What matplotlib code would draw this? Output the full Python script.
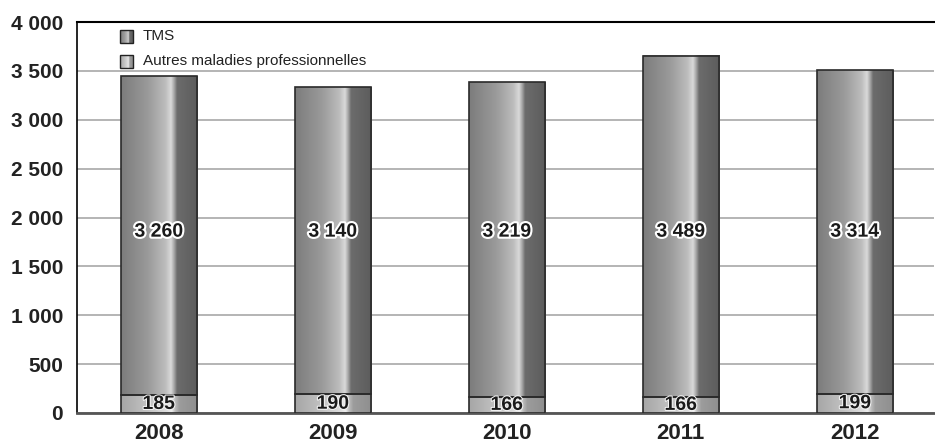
import matplotlib
matplotlib.use("Agg")
import matplotlib.pyplot as plt
import numpy as np
from matplotlib.colors import LinearSegmentedColormap
from matplotlib.patches import Rectangle
import matplotlib.patheffects as pe
from matplotlib import font_manager

years = ["2008", "2009", "2010", "2011", "2012"]
autres = [185, 190, 166, 166, 199]
tms = [3260, 3140, 3219, 3489, 3314]
yticks = [0, 500, 1000, 1500, 2000, 2500, 3000, 3500, 4000]
ytick_labels = ["0", "500", "1 000", "1 500", "2 000", "2 500", "3 000", "3 500", "4 000"]
legend_labels = ["TMS", "Autres maladies professionnelles"]
tms_label_y = 1850

names = {f.name for f in font_manager.fontManager.ttflist}
fam = "Liberation Sans Narrow" if "Liberation Sans Narrow" in names else "Liberation Sans"
plt.rcParams['font.family'] = [fam, 'DejaVu Sans']

cm_top = LinearSegmentedColormap.from_list("top", [
    (0.0, "#7c7c7c"), (0.35, "#9a9a9a"), (0.58, "#bdbdbd"), (0.65, "#dadada"),
    (0.69, "#a8a8a8"), (0.73, "#6c6c6c"), (1.0, "#5c5c5c")])
cm_bot = LinearSegmentedColormap.from_list("bot", [
    (0.0, "#a6a6a6"), (0.35, "#c2c2c2"), (0.6, "#dedede"), (0.66, "#ececec"),
    (0.71, "#b8b8b8"), (0.76, "#9c9c9c"), (1.0, "#8e8e8e")])
grad = np.linspace(0, 1, 256).reshape(1, -1)

fig = plt.figure(figsize=(9.35, 4.46), dpi=100)
ax = fig.add_axes([77/935, (446-413)/446, (934-77)/935, (413-22)/446])

x = np.arange(len(years))
w = 0.44

def gbar(ax, xc, y0, h, cmap):
    ax.imshow(grad, cmap=cmap, extent=[xc - w/2, xc + w/2, y0, y0 + h],
              aspect='auto', zorder=3, interpolation='bilinear')
    ax.add_patch(Rectangle((xc - w/2, y0), w, h, fill=False,
                           edgecolor="#2a2a2a", linewidth=1.2, zorder=4))

for i in range(len(years)):
    gbar(ax, x[i], 0, autres[i], cm_bot)
    gbar(ax, x[i], autres[i], tms[i], cm_top)
    ax.text(x[i], autres[i] / 2 - 5, f"{autres[i]}", ha='center', va='center',
            fontsize=14, fontweight='bold', color='#1a1a1a', zorder=5,
            path_effects=[pe.withStroke(linewidth=1.5, foreground='#f4f4f4')])
    lab = f"{tms[i]:,}".replace(",", " ")
    ax.text(x[i], tms_label_y, lab, ha='center', va='center',
            fontsize=14, fontweight='bold', color='#1a1a1a', zorder=5,
            path_effects=[pe.withStroke(linewidth=3, foreground='white')])

ax.set_xlim(-0.47, 4.455)
ax.set_ylim(0, 4000)
ax.set_yticks(yticks)
ax.set_yticklabels(ytick_labels, fontsize=15, fontweight='bold', color='#222222')
ax.set_xticks(x)
ax.set_xticklabels(years, fontsize=16, fontweight='bold', color='#222222')
ax.tick_params(axis='both', length=0)
ax.tick_params(axis='y', pad=10)
ax.tick_params(axis='x', pad=7)
ax.yaxis.grid(True, color="#a8a8a8", linewidth=1.2, zorder=1)
ax.set_axisbelow(True)
ax.spines['right'].set_visible(False)
ax.spines['top'].set_linewidth(1.5)
ax.spines['left'].set_linewidth(1.2)
ax.spines['bottom'].set_color("#555555")
ax.spines['bottom'].set_linewidth(2)

# legend
lax = fig.add_axes([0, 0, 1, 1], facecolor='none')
lax.axis('off')
for j, (cm, lbl) in enumerate(zip([cm_top, cm_bot], legend_labels)):
    y0 = 30 + j * 25
    lax.imshow(grad, cmap=cm, extent=[120, 133, y0 + 13, y0], aspect='auto',
               interpolation='bilinear')
    lax.add_patch(Rectangle((120, y0), 13, 13, fill=False, edgecolor='#222222', linewidth=1))
    lax.text(143, y0 + 6.5, lbl, ha='left', va='center', fontsize=11, color='#222222')
lax.set_xlim(0, 935)
lax.set_ylim(446, 0)

fig.savefig("out.png", dpi=100)
